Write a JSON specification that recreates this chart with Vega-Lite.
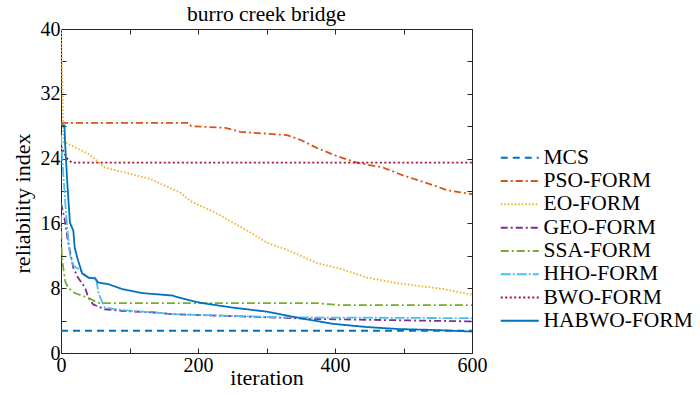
{
  "$schema": "https://vega.github.io/schema/vega-lite/v6.json",
  "autosize": {"type": "none"},
  "padding": {"left": 61, "top": 29, "right": 228, "bottom": 45},
  "width": 411,
  "height": 324,
  "background": "white",
  "title": {"text": "burro creek bridge", "font": "Liberation Serif, Times New Roman, serif", "fontSize": 21.5, "fontWeight": "normal", "color": "#000", "offset": -6},
  "config": {
    "view": {"stroke": "#262626", "strokeWidth": 1},
    "axis": {"labelFont": "Liberation Serif, Times New Roman, serif", "labelFontSize": 20, "labelColor": "#000", "titleFont": "Liberation Serif, Times New Roman, serif", "titleFontSize": 22, "titleFontWeight": "normal", "titleColor": "#000", "grid": false, "domain": false, "tickColor": "#262626", "tickSize": -5, "labelFlush": false, "labelOverlap": false},
    "legend": {"labelFont": "Liberation Serif, Times New Roman, serif", "labelFontSize": 21.5, "labelColor": "#000"}
  },
  "data": {"values": [
    {"s": "MCS", "x": 0, "y": 2.75}, {"s": "MCS", "x": 600, "y": 2.75},
    {"s": "PSO-FORM", "x": 0, "y": 28.4}, {"s": "PSO-FORM", "x": 186, "y": 28.4}, {"s": "PSO-FORM", "x": 190, "y": 28.0}, {"s": "PSO-FORM", "x": 240, "y": 27.8}, {"s": "PSO-FORM", "x": 262, "y": 27.3}, {"s": "PSO-FORM", "x": 330, "y": 26.9}, {"s": "PSO-FORM", "x": 350, "y": 26.3}, {"s": "PSO-FORM", "x": 374, "y": 25.3}, {"s": "PSO-FORM", "x": 403, "y": 24.3}, {"s": "PSO-FORM", "x": 432, "y": 23.5}, {"s": "PSO-FORM", "x": 470, "y": 22.9}, {"s": "PSO-FORM", "x": 500, "y": 21.9}, {"s": "PSO-FORM", "x": 530, "y": 21.1}, {"s": "PSO-FORM", "x": 564, "y": 20.1}, {"s": "PSO-FORM", "x": 600, "y": 19.6},
    {"s": "EO-FORM", "x": 0, "y": 40}, {"s": "EO-FORM", "x": 4, "y": 26.0}, {"s": "EO-FORM", "x": 9, "y": 25.9}, {"s": "EO-FORM", "x": 20, "y": 25.4}, {"s": "EO-FORM", "x": 40, "y": 24.6}, {"s": "EO-FORM", "x": 64, "y": 22.9}, {"s": "EO-FORM", "x": 130, "y": 21.5}, {"s": "EO-FORM", "x": 174, "y": 19.8}, {"s": "EO-FORM", "x": 188, "y": 18.8}, {"s": "EO-FORM", "x": 228, "y": 17.2}, {"s": "EO-FORM", "x": 276, "y": 14.9}, {"s": "EO-FORM", "x": 301, "y": 13.6}, {"s": "EO-FORM", "x": 334, "y": 12.6}, {"s": "EO-FORM", "x": 374, "y": 11.1}, {"s": "EO-FORM", "x": 408, "y": 10.4}, {"s": "EO-FORM", "x": 447, "y": 9.3}, {"s": "EO-FORM", "x": 485, "y": 8.7}, {"s": "EO-FORM", "x": 520, "y": 8.3}, {"s": "EO-FORM", "x": 558, "y": 7.9}, {"s": "EO-FORM", "x": 600, "y": 7.2},
    {"s": "GEO-FORM", "x": 0, "y": 18.5}, {"s": "GEO-FORM", "x": 5, "y": 16.7}, {"s": "GEO-FORM", "x": 10, "y": 13.9}, {"s": "GEO-FORM", "x": 18, "y": 10.5}, {"s": "GEO-FORM", "x": 25, "y": 9.3}, {"s": "GEO-FORM", "x": 35, "y": 8.1}, {"s": "GEO-FORM", "x": 40, "y": 6.8}, {"s": "GEO-FORM", "x": 47, "y": 6.0}, {"s": "GEO-FORM", "x": 64, "y": 5.4}, {"s": "GEO-FORM", "x": 89, "y": 5.2}, {"s": "GEO-FORM", "x": 137, "y": 5.0}, {"s": "GEO-FORM", "x": 162, "y": 4.8}, {"s": "GEO-FORM", "x": 374, "y": 4.2}, {"s": "GEO-FORM", "x": 600, "y": 3.9},
    {"s": "SSA-FORM", "x": 0, "y": 17.0}, {"s": "SSA-FORM", "x": 1, "y": 12.6}, {"s": "SSA-FORM", "x": 2, "y": 11.4}, {"s": "SSA-FORM", "x": 6, "y": 8.9}, {"s": "SSA-FORM", "x": 10, "y": 8.1}, {"s": "SSA-FORM", "x": 20, "y": 7.4}, {"s": "SSA-FORM", "x": 40, "y": 6.8}, {"s": "SSA-FORM", "x": 54, "y": 6.2}, {"s": "SSA-FORM", "x": 64, "y": 6.15}, {"s": "SSA-FORM", "x": 374, "y": 6.15}, {"s": "SSA-FORM", "x": 408, "y": 5.9}, {"s": "SSA-FORM", "x": 600, "y": 5.9},
    {"s": "HHO-FORM", "x": 0, "y": 26.9}, {"s": "HHO-FORM", "x": 2, "y": 23.8}, {"s": "HHO-FORM", "x": 6, "y": 18.8}, {"s": "HHO-FORM", "x": 9, "y": 15.5}, {"s": "HHO-FORM", "x": 13, "y": 12.2}, {"s": "HHO-FORM", "x": 18, "y": 10.8}, {"s": "HHO-FORM", "x": 25, "y": 10.4}, {"s": "HHO-FORM", "x": 40, "y": 9.3}, {"s": "HHO-FORM", "x": 51, "y": 9.3}, {"s": "HHO-FORM", "x": 55, "y": 7.3}, {"s": "HHO-FORM", "x": 64, "y": 5.6}, {"s": "HHO-FORM", "x": 89, "y": 5.3}, {"s": "HHO-FORM", "x": 137, "y": 5.0}, {"s": "HHO-FORM", "x": 162, "y": 4.8}, {"s": "HHO-FORM", "x": 324, "y": 4.4}, {"s": "HHO-FORM", "x": 600, "y": 4.3},
    {"s": "BWO-FORM", "x": 0, "y": 25.6}, {"s": "BWO-FORM", "x": 5, "y": 24.6}, {"s": "BWO-FORM", "x": 10, "y": 23.9}, {"s": "BWO-FORM", "x": 16, "y": 23.5}, {"s": "BWO-FORM", "x": 600, "y": 23.5},
    {"s": "HABWO-FORM", "x": 0, "y": 28.1}, {"s": "HABWO-FORM", "x": 5, "y": 28.1}, {"s": "HABWO-FORM", "x": 6, "y": 25.9}, {"s": "HABWO-FORM", "x": 9, "y": 21.3}, {"s": "HABWO-FORM", "x": 13, "y": 16.1}, {"s": "HABWO-FORM", "x": 18, "y": 15.1}, {"s": "HABWO-FORM", "x": 20, "y": 13.0}, {"s": "HABWO-FORM", "x": 25, "y": 11.4}, {"s": "HABWO-FORM", "x": 31, "y": 9.8}, {"s": "HABWO-FORM", "x": 40, "y": 9.3}, {"s": "HABWO-FORM", "x": 50, "y": 9.2}, {"s": "HABWO-FORM", "x": 54, "y": 8.7}, {"s": "HABWO-FORM", "x": 69, "y": 8.5}, {"s": "HABWO-FORM", "x": 89, "y": 7.9}, {"s": "HABWO-FORM", "x": 118, "y": 7.4}, {"s": "HABWO-FORM", "x": 162, "y": 7.1}, {"s": "HABWO-FORM", "x": 174, "y": 6.8}, {"s": "HABWO-FORM", "x": 203, "y": 6.2}, {"s": "HABWO-FORM", "x": 251, "y": 5.6}, {"s": "HABWO-FORM", "x": 301, "y": 5.1}, {"s": "HABWO-FORM", "x": 349, "y": 4.3}, {"s": "HABWO-FORM", "x": 397, "y": 3.6}, {"s": "HABWO-FORM", "x": 447, "y": 3.2}, {"s": "HABWO-FORM", "x": 495, "y": 2.95}, {"s": "HABWO-FORM", "x": 543, "y": 2.85}, {"s": "HABWO-FORM", "x": 600, "y": 2.65}
  ]},
  "layer": [
    {
      "mark": {"type": "line", "strokeWidth": 1.8, "clip": true},
      "encoding": {
        "x": {"field": "x", "type": "quantitative", "scale": {"domain": [0, 600], "nice": false, "zero": false},
              "axis": {"orient": "bottom", "title": "iteration", "values": [0, 100, 200, 300, 400, 500, 600], "labelExpr": "datum.value % 200 == 0 ? datum.label : ''", "labelPadding": 7, "titlePadding": -8}},
        "y": {"field": "y", "type": "quantitative", "scale": {"domain": [0, 40], "nice": false, "zero": false},
              "axis": {"orient": "left", "title": "reliability index", "values": [0, 4, 8, 12, 16, 20, 24, 28, 32, 36, 40], "labelExpr": "datum.value % 8 == 0 ? datum.label : ''", "labelPadding": 6, "titlePadding": 6, "titleY": 174}},
        "color": {"field": "s", "type": "nominal", "title": null,
                  "scale": {"domain": ["MCS", "PSO-FORM", "EO-FORM", "GEO-FORM", "SSA-FORM", "HHO-FORM", "BWO-FORM", "HABWO-FORM"],
                            "range": ["#0072BD", "#D95319", "#EDB120", "#7E2F8E", "#77AC30", "#4DBEEE", "#A2142F", "#0072BD"]},
                  "legend": {"orient": "none", "legendX": 448, "legendY": 118, "symbolType": "M-2,0H2", "symbolSize": 361, "symbolStrokeWidth": 2, "symbolFillColor": "transparent", "labelOffset": 13, "rowPadding": 0.3}},
        "strokeDash": {"field": "s", "type": "nominal", "title": null,
                  "scale": {"domain": ["MCS", "PSO-FORM", "EO-FORM", "GEO-FORM", "SSA-FORM", "HHO-FORM", "BWO-FORM", "HABWO-FORM"],
                            "range": [[7, 5], [7, 3, 2, 3], [1.5, 2], [7, 3, 2, 3], [8, 3, 2, 3], [10, 2, 2, 2], [2, 2.5], [1, 0]]},
                  "legend": {"orient": "none", "legendX": 448, "legendY": 118, "symbolType": "M-2,0H2", "symbolSize": 361, "symbolStrokeWidth": 2, "symbolFillColor": "transparent", "labelOffset": 13, "rowPadding": 0.3}}
      }
    },
    {
      "mark": {"type": "point", "opacity": 0},
      "encoding": {
        "x": {"field": "x", "type": "quantitative", "axis": {"orient": "top", "title": null, "labels": false, "values": [0, 100, 200, 300, 400, 500, 600]}},
        "y": {"field": "y", "type": "quantitative", "axis": {"orient": "right", "title": null, "labels": false, "values": [0, 4, 8, 12, 16, 20, 24, 28, 32, 36, 40]}}
      }
    }
  ],
  "resolve": {"axis": {"x": "independent", "y": "independent"}}
}
